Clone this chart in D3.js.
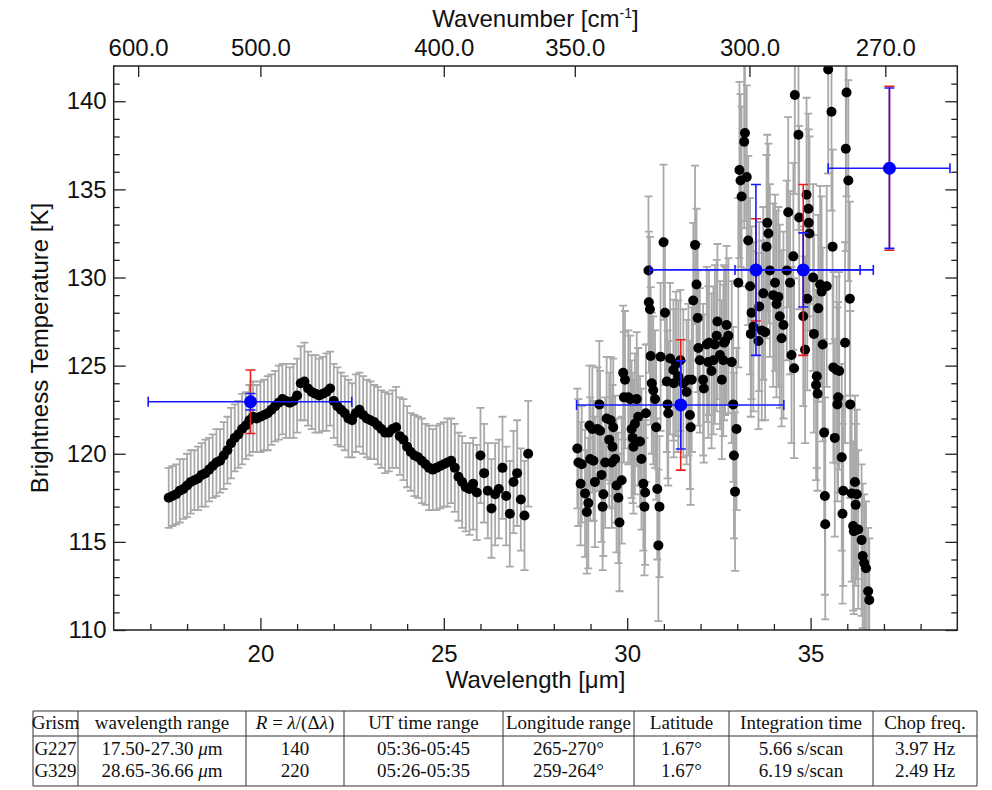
<!DOCTYPE html>
<html>
<head>
<meta charset="utf-8">
<script src="https://cdn.jsdelivr.net/npm/d3@7"></script>
<style>
body { margin: 0; background: #fff; }
svg { display: block; }
.axis text { font-family: "Liberation Sans", Arial, sans-serif; font-size: 24px; fill: #111; }
.axis path { display: none; }
.axis line { stroke: #222; stroke-width: 1.3; }
.title { font-family: "Liberation Sans", Arial, sans-serif; font-size: 24px; fill: #111; }
.tab { font-family: "Liberation Serif", "Times New Roman", serif; font-size: 19px; fill: #111; }
</style>
</head>
<body>
<svg width="992" height="790"></svg>
<script>
// G227 grism spectrum
var lam1 = [17.5,17.6,17.7,17.8,17.9,18.0,18.1,18.2,18.3,18.4,18.5,18.6,18.7,18.8,18.9,
  19.0,19.1,19.2,19.3,19.4,19.5,19.6,19.7,19.8,19.9,20.0,20.1,20.2,20.3,20.4,20.5,20.6,20.7,20.8,20.9,
  21.0,21.1,21.2,21.3,21.4,21.5,21.6,21.7,21.8,21.9,22.0,22.1,22.2,22.3,22.4,22.5,22.6,22.7,22.8,22.9,
  23.0,23.1,23.2,23.3,23.4,23.5,23.6,23.7,23.8,23.9,24.0,24.1,24.2,24.3,24.4,24.5,24.6,24.7,24.8,24.9,
  25.0,25.1,25.2,25.3,25.4,25.5,25.6,25.7,25.8,25.9,26.0,26.1,26.2,26.3,26.4,26.5,26.6,26.7,26.8,26.9,
  27.0,27.1,27.2,27.3];
var temp1 = [117.5,117.6,117.7,117.9,118.0,118.2,118.4,118.5,118.6,118.8,118.9,119.1,119.3,119.5,119.6,
  119.9,120.2,120.6,120.9,121.1,121.4,121.6,121.9,122.1,122.0,122.1,122.2,122.3,122.5,122.7,122.9,123.1,123.0,122.9,123.0,
  123.3,124.0,124.1,123.7,123.5,123.4,123.3,123.4,123.5,123.7,123.0,122.7,122.5,122.3,122.0,121.9,122.3,122.5,122.2,122.0,
  121.9,121.8,121.6,121.4,121.2,121.2,121.4,121.5,121.0,120.8,120.4,120.1,119.9,119.8,119.6,119.4,119.2,119.1,119.2,119.3,
  119.4,119.5,119.6,119.2,118.7,118.4,118.1,118.0,118.3,117.8,119.9,118.9,117.9,116.9,117.7,118.0,119.2,117.6,116.6,118.4,
  118.9,117.4,116.5,120.0];
var err1 = [1.7,1.7,1.7,1.8,1.7,1.8,1.8,1.7,1.8,1.8,1.9,1.8,1.8,1.9,1.8,
  1.9,1.9,2.0,1.9,1.9,2.0,1.9,2.0,2.0,1.9,2.0,2.0,2.1,2.0,2.0,2.1,2.0,2.1,2.0,2.1,
  2.1,2.1,2.2,2.1,2.1,2.2,2.1,2.1,2.2,2.1,2.1,2.2,2.1,2.1,2.2,2.1,2.2,2.1,2.2,2.2,
  2.2,2.1,2.2,2.2,2.3,2.2,2.2,2.3,2.2,2.3,2.3,2.2,2.3,2.3,2.4,2.3,2.4,2.3,2.4,2.4,
  2.4,2.5,2.4,2.5,2.5,2.6,2.5,2.6,2.6,2.7,2.7,2.8,2.7,2.8,2.9,2.8,2.9,2.8,3.0,2.9,
  3.0,2.9,3.1,3.0];

// G329 grism spectrum
var lam2 = [28.64,28.67,28.73,28.76,28.85,28.90,28.94,28.97,28.99,29.05,29.08,29.12,29.19,29.24,29.26,29.30,29.33,29.35,29.40,29.44,
  29.51,29.55,29.58,29.60,29.62,29.67,29.71,29.76,29.79,29.85,29.89,29.91,29.94,30.03,30.08,30.12,30.15,30.17,30.21,30.26,
  30.30,30.35,30.39,30.44,30.47,30.49,30.51,30.58,30.59,30.62,30.64,30.67,30.71,30.76,30.79,30.82,30.85,30.88,30.91,30.99,
  31.03,31.08,31.10,31.12,31.17,31.26,31.27,31.33,31.39,31.45,31.53,31.62,31.67,31.71,31.73,31.76,31.80,31.85,31.89,31.92,
  31.94,31.98,32.07,32.09,32.17,32.21,32.23,32.30,32.35,32.39,32.44,32.46,32.53,32.58,32.62,32.64,32.67,32.71,32.76,32.85,
  32.89,32.91,32.94,32.98,33.03,33.06,33.09,33.12,33.19,33.21,33.26,33.30,33.35,33.37,33.39,33.44,33.58,33.60,33.67,33.71,
  33.76,33.80,33.82,33.85,33.89,33.98,34.03,34.07,34.12,34.16,34.21,34.26,34.35,34.39,34.44,34.48,34.53,34.55,34.57,34.67,
  34.69,34.80,34.85,34.89,34.91,34.94,34.95,34.97,35.07,35.09,35.15,35.17,35.19,35.21,35.26,35.30,35.33,35.37,35.39,35.40,
  35.44,35.48,35.57,35.60,35.62,35.66,35.71,35.73,35.75,35.78,35.85,35.87,35.89,35.94,35.96,35.98,36.03,36.07,36.08,36.12,
  36.16,36.18,36.21,36.23,36.26,36.30,36.39,36.42,36.46,36.51,36.57,36.60];
var temp2 = [120.3,119.5,118.3,119.4,117.75,116.7,117.2,121.6,119.7,121.4,119.6,118.4,121.4,122.8,121.3,118.8,117.0,117.7,119.5,122.0,
  120.8,121.9,119.5,120.4,121.5,119.7,118.2,117.5,116.1,118.5,124.6,123.2,124.2,123.2,123.1,121.4,120.9,120.4,121.7,123.1,
  122.1,120.7,119.7,118.3,117.0,117.8,122.3,130.4,128.6,128.2,125.55,124.0,123.6,123.1,121.5,118.0,114.8,117.0,125.5,132.0,
  128.0,124.1,122.8,122.3,125.4,124.75,124.0,125.1,124.4,125.3,124.0,123.5,124.2,122.2,121.5,124.2,128.7,131.85,129.6,127.7,
  126.0,125.3,124.2,123.7,126.2,125.2,126.3,124.7,125.3,126.2,126.7,127.5,125.6,124.2,125.3,126.3,126.4,127.3,126.7,125.2,
  122.8,119.9,117.85,121.4,129.7,136.1,135.5,134.6,137.7,138.2,135.7,132.1,129.5,126.8,128.0,127.2,126.4,128.35,127.0,129.1,
  126.9,131.75,133.1,132.5,130.4,129.0,129.7,128.5,128.9,127.8,126.55,127.3,130.4,133.7,129.7,125.6,131.2,124.85,140.35,138.1,
  133.4,127.8,125.9,134.7,128.8,133.9,133.1,132.5,130.0,126.8,123.9,124.4,123.4,128.25,129.6,129.2,126.2,121.2,117.6,116.0,
  129.5,141.8,139.4,131.75,124.9,120.9,124.75,122.8,123.2,124.7,119.8,116.6,117.9,126.3,137.3,140.5,135.5,128.8,122.8,117.75,
  115.9,115.6,118.4,117.1,117.7,115.7,115.1,114.2,113.8,113.5,112.2,111.7];
var err2 = [3.4,3.6,3.5,3.3,3.6,3.5,3.7,3.4,3.5,3.6,3.4,3.7,3.5,3.6,3.4,3.8,3.6,3.5,3.7,3.5,
  3.8,3.6,3.7,3.5,3.9,3.6,3.8,3.7,3.9,3.6,3.8,3.7,3.9,3.8,3.6,3.9,3.7,3.8,4.0,3.8,
  3.9,3.7,4.0,3.8,3.9,4.1,3.9,4.2,4.0,4.1,3.9,4.0,4.2,3.9,4.1,4.0,4.3,4.0,4.2,4.4,
  4.1,4.0,4.2,4.1,4.3,4.0,4.2,4.1,4.3,4.0,4.2,4.1,4.3,4.2,4.4,4.1,4.4,4.5,4.3,4.2,
  4.4,4.1,4.3,4.2,4.4,4.3,4.1,4.4,4.2,4.5,4.3,4.4,4.2,4.5,4.3,4.4,4.2,4.5,4.4,4.6,
  4.4,4.7,4.5,4.6,4.8,5.0,4.9,5.1,4.9,5.0,5.2,4.8,5.0,4.7,4.9,4.8,5.0,4.8,5.1,4.9,
  5.0,5.2,5.0,5.1,4.9,5.2,5.0,5.3,5.1,5.2,5.0,5.3,5.1,5.4,5.2,5.0,5.3,5.1,5.6,5.4,
  5.2,5.1,5.3,5.5,5.2,5.4,5.3,5.5,5.3,5.6,5.4,5.2,5.5,5.3,5.6,5.4,5.5,5.3,5.6,5.4,
  5.7,5.9,5.6,5.5,5.4,5.6,5.3,5.5,5.4,5.6,5.3,5.1,5.4,5.7,5.8,5.9,5.7,5.5,5.3,5.0,
  4.8,4.7,4.9,4.6,4.8,4.5,4.3,4.1,3.9,3.8,3.6,3.5];

// binned averages (blue) with red spread
var avgLam = [19.73, 31.46, 33.51, 34.80, 37.15];
var avgTemp = [122.95, 122.77, 130.43, 130.43, 136.2];
var avgLamLo = [16.94, 28.62, 30.62, 32.94, 35.48];
var avgLamHi = [22.49, 34.27, 36.35, 36.71, 38.80];
var avgErrBlue = [0.47, 2.5, 4.85, 2.1, 4.55];
var avgErrRed = [1.8, 3.7, 2.9, 4.85, 4.65];

var lamTicks = [20, 25, 30, 35];
var lamMinor = [17, 18, 19, 21, 22, 23, 24, 26, 27, 28, 29, 31, 32, 33, 34, 36, 37, 38];
var waveTicks = [600, 500, 400, 350, 300, 270];
var tempTicks = [110, 115, 120, 125, 130, 135, 140];
var tempMinor = [111,112,113,114,116,117,118,119,121,122,123,124,126,127,128,129,131,132,133,134,136,137,138,139,141];

var tableHeader = ["Grism", "wavelength range", "R = λ/(Δλ)", "UT time range", "Longitude range", "Latitude", "Integration time", "Chop freq."];
var tableRows = [
  ["G227", "17.50-27.30 μm", "140", "05:36-05:45", "265-270°", "1.67°", "5.66 s/scan", "3.97 Hz"],
  ["G329", "28.65-36.66 μm", "220", "05:26-05:35", "259-264°", "1.67°", "6.19 s/scan", "2.49 Hz"]
];

var svg = d3.select("svg"),
    margin = {top: 66, right: 34.7, bottom: 160, left: 113.7},
    width = +svg.attr("width") - margin.left - margin.right,
    height = +svg.attr("height") - margin.top - margin.bottom,
    g = svg.append("g").attr("transform", "translate(" + margin.left + "," + margin.top + ")");

var x = d3.scaleLinear().domain([16, 39]).range([0, width]);
var y = d3.scaleLinear().domain([110, 142]).range([height, 0]);

svg.append("defs").append("clipPath").attr("id", "clip")
  .append("rect").attr("width", width).attr("height", height);

var plot = g.append("g").attr("clip-path", "url(#clip)");

function toPoints(lams, temps, errs) {
  return lams.map(function(l, i) { return {lam: l, t: temps[i], e: errs[i]}; });
}
var data1 = toPoints(lam1, temp1, err1);
var data2 = toPoints(lam2, temp2, err2);
var all = data1.concat(data2);

// grey error bars
var bars = plot.append("g").attr("stroke", "#a9a9a9").attr("stroke-width", 1.8).attr("fill", "none");
bars.selectAll("path").data(all).enter().append("path")
  .attr("d", function(d) {
    var cx = x(d.lam), y0 = y(d.t - d.e), y1 = y(d.t + d.e);
    return "M" + cx + "," + y0 + "V" + y1 +
      "M" + (cx - 4) + "," + y0 + "H" + (cx + 4) +
      "M" + (cx - 4) + "," + y1 + "H" + (cx + 4);
  });

plot.append("g").selectAll("circle").data(all).enter().append("circle")
  .attr("cx", function(d) { return x(d.lam); })
  .attr("cy", function(d) { return y(d.t); })
  .attr("r", 5)
  .attr("fill", "#000");

var avg = avgLam.map(function(l, i) {
  return {lam: l, t: avgTemp[i], lo: avgLamLo[i], hi: avgLamHi[i], eb: avgErrBlue[i], er: avgErrRed[i]};
});

// red spread bars
plot.append("g").attr("stroke", "#e8201c").attr("stroke-width", 1.6).attr("fill", "none")
  .selectAll("path").data(avg).enter().append("path")
  .attr("d", function(d) {
    var cx = x(d.lam), y0 = y(d.t - d.er), y1 = y(d.t + d.er);
    return "M" + cx + "," + y0 + "V" + y1 +
      "M" + (cx - 5) + "," + y0 + "H" + (cx + 5) +
      "M" + (cx - 5) + "," + y1 + "H" + (cx + 5);
  });

// blue bars and points
plot.append("g").attr("stroke", "#1a1aff").attr("stroke-width", 1.6).attr("fill", "none")
  .selectAll("path").data(avg).enter().append("path")
  .attr("d", function(d) {
    var cx = x(d.lam), cy = y(d.t), y0 = y(d.t - d.eb), y1 = y(d.t + d.eb),
        x0 = x(d.lo), x1 = x(d.hi);
    return "M" + cx + "," + y0 + "V" + y1 +
      "M" + (cx - 5) + "," + y0 + "H" + (cx + 5) +
      "M" + (cx - 5) + "," + y1 + "H" + (cx + 5) +
      "M" + x0 + "," + cy + "H" + x1 +
      "M" + x0 + "," + (cy - 5) + "V" + (cy + 5) +
      "M" + x1 + "," + (cy - 5) + "V" + (cy + 5);
  });

plot.append("g").selectAll("circle").data(avg).enter().append("circle")
  .attr("cx", function(d) { return x(d.lam); })
  .attr("cy", function(d) { return y(d.t); })
  .attr("r", 6.5)
  .attr("fill", "#0000ff");

// axes
g.append("g").attr("class", "axis").attr("transform", "translate(0," + height + ")")
  .call(d3.axisBottom(x).tickValues(lamTicks).tickSize(-12).tickPadding(15));
g.append("g").attr("class", "axis").attr("transform", "translate(0," + height + ")")
  .call(d3.axisBottom(x).tickValues(lamMinor).tickSize(-6).tickFormat(""));

g.append("g").attr("class", "axis")
  .call(d3.axisTop(x).tickValues(waveTicks.map(function(w) { return 10000 / w; }))
    .tickSize(-11).tickPadding(10)
    .tickFormat(function(d) { return (10000 / d).toFixed(1); }));

g.append("g").attr("class", "axis")
  .call(d3.axisLeft(y).tickValues(tempTicks).tickSize(-12).tickPadding(7));
g.append("g").attr("class", "axis")
  .call(d3.axisLeft(y).tickValues(tempMinor).tickSize(-6).tickFormat(""));
g.append("g").attr("class", "axis").attr("transform", "translate(" + width + ",0)")
  .call(d3.axisRight(y).tickValues(tempTicks).tickSize(-12).tickFormat(""));
g.append("g").attr("class", "axis").attr("transform", "translate(" + width + ",0)")
  .call(d3.axisRight(y).tickValues(tempMinor).tickSize(-6).tickFormat(""));

g.append("rect").attr("width", width).attr("height", height)
  .attr("fill", "none").attr("stroke", "#222").attr("stroke-width", 1.5);

// titles
g.append("text").attr("class", "title").attr("x", width / 2).attr("y", height + 58)
  .attr("text-anchor", "middle").text("Wavelength [μm]");

var wnTitle = g.append("text").attr("class", "title").attr("x", width / 2).attr("y", -39)
  .attr("text-anchor", "middle");
wnTitle.append("tspan").text("Wavenumber [cm");
wnTitle.append("tspan").attr("font-size", "14px").attr("dy", -9).text("-1");
wnTitle.append("tspan").attr("dy", 9).text("]");

g.append("text").attr("class", "title")
  .attr("transform", "translate(-66," + (height / 2) + ") rotate(-90)")
  .attr("text-anchor", "middle").text("Brightness Temperature [K]");

// table
var colEdges = [33, 78, 246, 344, 503, 634, 729, 873, 977];
var rowLines = [711, 736, 786];
var rowBase = [729, 755, 777];
var tab = svg.append("g");
var italic = {"R": 1, "λ": 1, "μ": 1};

function cellText(sel, str) {
  str.split("").forEach(function(ch) {
    sel.append("tspan").attr("font-style", italic[ch] ? "italic" : null).text(ch);
  });
}

tab.selectAll("line.v").data(colEdges).enter().append("line")
  .attr("x1", function(d) { return d; }).attr("x2", function(d) { return d; })
  .attr("y1", rowLines[0]).attr("y2", rowLines[2])
  .attr("stroke", "#333").attr("stroke-width", 1);
tab.selectAll("line.h").data(rowLines).enter().append("line")
  .attr("x1", colEdges[0]).attr("x2", colEdges[colEdges.length - 1])
  .attr("y1", function(d) { return d; }).attr("y2", function(d) { return d; })
  .attr("stroke", "#333").attr("stroke-width", 1);

[tableHeader].concat(tableRows).forEach(function(row, r) {
  row.forEach(function(s, c) {
    var t = tab.append("text").attr("class", "tab")
      .attr("x", (colEdges[c] + colEdges[c + 1]) / 2)
      .attr("y", rowBase[r]).attr("text-anchor", "middle");
    cellText(t, s);
  });
});
</script>
</body>
</html>
